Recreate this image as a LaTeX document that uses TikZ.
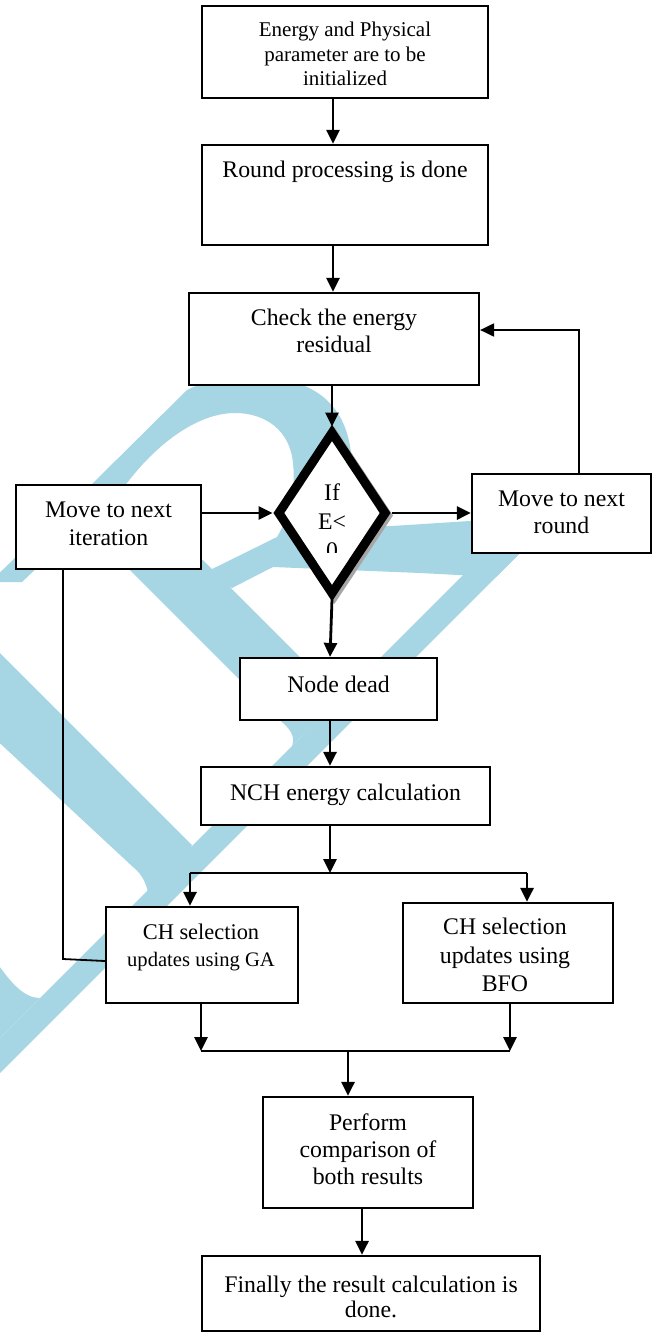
\documentclass[tikz,border=0pt]{standalone}
\usepackage{fontspec}
\setmainfont{Liberation Serif}
\usetikzlibrary{arrows.meta,shapes.geometric}
\definecolor{wmblue}{RGB}{166,214,227}
\tikzset{
  box/.style={draw, fill=white, line width=2.2pt, inner sep=0pt},
  txt/.style={align=center, inner sep=0pt, font=\fontsize{23.8}{27}\selectfont},
  arr/.style={line width=2.8pt, -{Triangle[length=14pt,width=13pt]}},
  ln/.style={line width=2.6pt},
  thinarr/.style={line width=2pt, -{Triangle[length=14pt,width=13pt]}},
  thinln/.style={line width=1.8pt},
  wm/.style={fill=wmblue}
}
\begin{document}
\begin{tikzpicture}[x=1pt,y=-1pt]
\useasboundingbox (0,0) rectangle (654,1334);
% watermark
\fill[wm] (-10,582) -- (93,483) -- (187,390) .. controls (210,378) and (240,376) .. (270,378)
  .. controls (320,382) and (352,410) .. (352,470) .. controls (352,500) and (345,515) .. (340,528)
  -- (392,526) -- (485,520) -- (522,551) -- (496,577) -- (420,573) -- (273,567) -- (232,588) -- (200,575)
  -- (277,537) .. controls (290,515) and (296,490) .. (293,463) .. controls (290,430) and (265,413) .. (235,413)
  .. controls (200,413) and (160,440) .. (127,483) -- (22,582) -- cycle;
\fill[wm] (120,560) -- (203,560) -- (341,698) -- (292,746) .. controls (295,738) and (292,731) .. (283,723) -- cycle;
\fill[wm] (-10,1048) -- (480,558) -- (522,551) -- (-10,1083) -- cycle;
\fill[wm] (-10,643) -- (192,845) -- (165,908) -- (150,905) .. controls (148,885) and (143,875) .. (133,867) -- (-10,734) -- cycle;
\fill[wm] (-5,960) .. controls (12,985) and (25,998) .. (40,998) -- (-5,1043) -- cycle;
% boxes
\node[box, minimum width=286pt, minimum height=92pt] (b1) at (345,52) {};
\node[box, minimum width=286pt, minimum height=100pt] (b2) at (345,195) {};
\node[box, minimum width=290pt, minimum height=92pt] (b3) at (334,339) {};
\node[box, minimum width=185pt, minimum height=84pt] (bIt) at (108.5,527) {};
\node[box, minimum width=179pt, minimum height=79pt] (bR) at (561.5,513.5) {};
\node[diamond, draw=black!35, fill=white, line width=9pt, minimum width=110pt, minimum height=164pt, inner sep=0pt] (ds) at (334.5,515.5) {};
\node[diamond, draw, fill=white, line width=9pt, minimum width=110pt, minimum height=164pt, inner sep=0pt] (d) at (332,513) {};
\node[box, minimum width=197pt, minimum height=62pt] (bND) at (338.5,689) {};
\node[box, minimum width=289pt, minimum height=58pt] (bNCH) at (345.5,796) {};
\node[box, minimum width=192pt, minimum height=96pt] (bGA) at (202,955) {};
\node[box, minimum width=210pt, minimum height=100pt] (bBFO) at (508,953) {};
\node[box, minimum width=210pt, minimum height=111pt] (bP) at (368,1152.5) {};
\node[box, minimum width=338pt, minimum height=75pt] (bF) at (371,1293.5) {};
% texts
\node[txt, font=\fontsize{21}{24.5}\selectfont] (t1) at (345,54) {Energy and Physical\\parameter are to be\\initialized};
\node[txt] (t2) at (345,172) {Round processing is done};
\node[txt] (t3) at (334,331) {Check the energy\\residual};
\node[txt, font=\fontsize{23.8}{28}\selectfont] (tIt) at (108.5,524) {Move to next\\iteration};
\node[txt] (tR) at (561.5,512.5) {Move to next\\round};
\begin{scope}
\clip (260,470) rectangle (400,552);
\node[txt, font=\fontsize{23.8}{29}\selectfont] (tD) at (332,521) {If\\E<\\0};
\end{scope}
\node[txt] (tND) at (338.5,684) {Node dead};
\node[txt] (tNCH) at (345.5,795) {NCH energy calculation};
\node[txt, font=\fontsize{22.4}{27}\selectfont] (tGA) at (201,947) {CH selection\\{\fontsize{20.6}{27}\selectfont updates using GA}};
\node[txt, font=\fontsize{23.8}{28.5}\selectfont] (tBFO) at (505,955) {CH selection\\updates using\\BFO};
\node[txt] (tP) at (368,1149) {Perform\\comparison of\\both results};
\node[txt, font=\fontsize{23.8}{25.5}\selectfont] (tF) at (371,1297) {Finally the result calculation is\\done.};
% connectors
\draw[arr] ([xshift=-12pt]b1.south) -- ([xshift=-12pt]b2.north);
\draw[arr] ([xshift=-12pt]b2.south) -- ([xshift=-1pt]b3.north);
\draw[arr] (d.north |- b3.south) -- (d.north);
\draw[arr] (bIt.east |- d.west) -- (d.west);
\draw[arr] (d.east) -- (d.east -| bR.west);
\draw[arr] (d.south) -- ([xshift=-2pt]d.south |- bND.north);
\draw[arr] ([xshift=-2pt]d.south |- bND.south) -- ([xshift=-2pt]d.south |- bNCH.north);
\coordinate (j1) at (330,873);
\coordinate (jL) at (190,873);
\coordinate (jR) at (527,873);
\draw[arr] (j1 |- bNCH.south) -- (j1);
\draw[ln] (jL) -- (jR);
\draw[arr] (jL) -- (jL |- bGA.north);
\draw[arr] (jR) -- (jR |- bBFO.north);
\coordinate (kL) at (201,1051);
\coordinate (kR) at (510,1051);
\coordinate (kM) at (348,1051);
\draw[arr] (kL |- bGA.south) -- (kL);
\draw[arr] (kR |- bBFO.south) -- (kR);
\draw[ln] (kL) -- (kR);
\draw[arr] (kM) -- (kM |- bP.north);
\draw[arr] ([xshift=-6pt]bP.south) -- ([xshift=-9pt]bF.north);
\coordinate (fb) at (579,330);
\draw[thinarr] (fb |- bR.north) -- (fb) -- (fb -| b3.east);
\coordinate (lp) at (63,959);
\draw[thinln] (lp |- bIt.south) -- (lp) -- ([yshift=-6pt]bGA.west);
\end{tikzpicture}
\end{document}
